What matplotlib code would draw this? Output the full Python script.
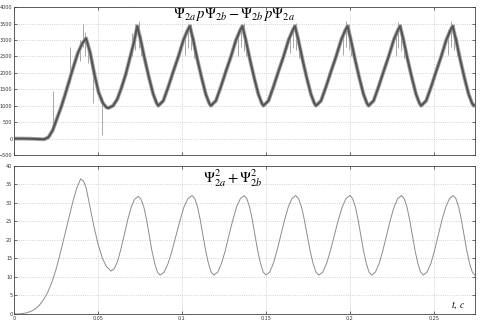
import matplotlib
matplotlib.use('Agg')
import matplotlib.pyplot as plt

plt.rcParams['mathtext.fontset'] = 'stix'

# ---- верхний график: Psi2a*pPsi2b - Psi2b*pPsi2a (средняя линия шумовой полосы) ----
top_t = [0.0, 0.005, 0.010, 0.015, 0.018, 0.0205, 0.023, 0.0255, 0.028, 0.0305, 0.033,
         0.0355, 0.038, 0.0405, 0.0429, 0.0454, 0.0479, 0.0504, 0.0529, 0.0550, 0.0562,
         0.0590, 0.0615, 0.0640, 0.0665, 0.0690, 0.0715, 0.0734,
         0.0754, 0.0779, 0.0804, 0.0829, 0.0849, 0.0859,
         0.0889, 0.0919, 0.0949, 0.0979, 0.1009, 0.1034, 0.1047,
         0.1067, 0.1092, 0.1117, 0.1142, 0.1162, 0.1172,
         0.1202, 0.1232, 0.1262, 0.1292, 0.1322, 0.1347, 0.1360,
         0.1380, 0.1405, 0.1430, 0.1455, 0.1475, 0.1485,
         0.1515, 0.1545, 0.1575, 0.1605, 0.1635, 0.1660, 0.1673,
         0.1693, 0.1718, 0.1743, 0.1768, 0.1788, 0.1798,
         0.1828, 0.1858, 0.1888, 0.1918, 0.1948, 0.1973, 0.1986,
         0.2006, 0.2031, 0.2056, 0.2081, 0.2101, 0.2111,
         0.2141, 0.2171, 0.2201, 0.2231, 0.2261, 0.2286, 0.2299,
         0.2319, 0.2344, 0.2369, 0.2394, 0.2414, 0.2424,
         0.2454, 0.2484, 0.2514, 0.2544, 0.2574, 0.2599, 0.2612,
         0.2632, 0.2657, 0.2682, 0.2707, 0.2727, 0.2737, 0.2750]
top_v = [0, 0, -5, -15, -20, 40, 250, 600, 950, 1350, 1780,
         2200, 2600, 2880, 3050, 2600, 1950, 1400, 1080, 950, 930,
         1000, 1200, 1550, 1950, 2450, 2950, 3420,
         3000, 2400, 1850, 1350, 1080, 1000,
         1150, 1580, 2050, 2500, 3000, 3300, 3420,
         3000, 2400, 1850, 1350, 1080, 1000,
         1150, 1580, 2050, 2500, 3000, 3300, 3420,
         3000, 2400, 1850, 1350, 1080, 1000,
         1150, 1580, 2050, 2500, 3000, 3300, 3420,
         3000, 2400, 1850, 1350, 1080, 1000,
         1150, 1580, 2050, 2500, 3000, 3300, 3420,
         3000, 2400, 1850, 1350, 1080, 1000,
         1150, 1580, 2050, 2500, 3000, 3300, 3420,
         3000, 2400, 1850, 1350, 1080, 1000,
         1150, 1580, 2050, 2500, 3000, 3300, 3420,
         3000, 2400, 1850, 1350, 1080, 1000, 1030]

# выбросы (всплески) на верхнем графике: время, нижний и верхний уровни
spike_t = [0.0234, 0.0333, 0.0410, 0.0468, 0.0522,
           0.0395, 0.0420, 0.0440,
           0.0705, 0.0722, 0.0742, 0.0757,
           0.1020, 0.1037, 0.1055, 0.1070,
           0.1333, 0.1350, 0.1368, 0.1383,
           0.1646, 0.1663, 0.1681, 0.1696,
           0.1959, 0.1976, 0.1994, 0.2009,
           0.2272, 0.2289, 0.2307, 0.2322,
           0.2585, 0.2602, 0.2620, 0.2635]
spike_lo = [250, 1700, 2800, 1090, 120,
            2350, 2500, 2300,
            2500, 2700, 2750, 2500,
            2550, 2750, 2700, 2450,
            2500, 2800, 2650, 2500,
            2600, 2750, 2700, 2450,
            2550, 2800, 2700, 2500,
            2500, 2750, 2650, 2450,
            2550, 2800, 2700, 2500]
spike_hi = [1450, 2800, 3500, 2300, 1250,
            3000, 3250, 2950,
            3200, 3500, 3570, 3150,
            3250, 3480, 3500, 3100,
            3250, 3500, 3520, 3100,
            3200, 3500, 3520, 3100,
            3300, 3570, 3500, 3100,
            3250, 3550, 3480, 3100,
            3300, 3570, 3500, 3100]

# ---- нижний график: Psi2a^2 + Psi2b^2 ----
bot_t = [0.0, 0.0025, 0.005, 0.0075, 0.010, 0.0125, 0.015, 0.0175, 0.020, 0.0225,
         0.025, 0.0275, 0.030, 0.0325, 0.035, 0.0375, 0.0397, 0.0415, 0.043, 0.045,
         0.0475, 0.050, 0.0525, 0.055, 0.0578,
         0.0598, 0.0618, 0.0638, 0.0658, 0.0678, 0.0698, 0.0718, 0.0740,
         0.0756, 0.0773, 0.0789, 0.0805, 0.0821, 0.0838, 0.0854, 0.0870,
         0.0894, 0.0917, 0.0941, 0.0965, 0.0989, 0.1012, 0.1036, 0.1060,
         0.1076, 0.1093, 0.1109, 0.1125, 0.1141, 0.1158, 0.1174, 0.1190,
         0.1213, 0.1235, 0.1258, 0.1280, 0.1303, 0.1325, 0.1348, 0.1370,
         0.1386, 0.1403, 0.1419, 0.1435, 0.1451, 0.1468, 0.1484, 0.1500,
         0.1522, 0.1544, 0.1566, 0.1589, 0.1611, 0.1633, 0.1655, 0.1677,
         0.1694, 0.1712, 0.1729, 0.1746, 0.1763, 0.1781, 0.1798, 0.1815,
         0.1838, 0.1861, 0.1884, 0.1908, 0.1931, 0.1954, 0.1977, 0.2000,
         0.2016, 0.2033, 0.2049, 0.2065, 0.2081, 0.2098, 0.2114, 0.2130,
         0.2152, 0.2174, 0.2196, 0.2219, 0.2241, 0.2263, 0.2285, 0.2307,
         0.2323, 0.2340, 0.2356, 0.2372, 0.2388, 0.2405, 0.2421, 0.2437,
         0.2459, 0.2482, 0.2504, 0.2526, 0.2548, 0.2571, 0.2593, 0.2615,
         0.2631, 0.2648, 0.2664, 0.2680, 0.2696, 0.2713, 0.2729, 0.2745]
bot_v = [0, 0, 0.1, 0.3, 0.7, 1.3, 2.3, 3.8, 5.8, 8.5,
         12.0, 16.3, 21.0, 25.8, 30.3, 34.2, 36.5, 35.8, 34.0, 29.5,
         23.8, 19.0, 15.2, 12.8, 11.6,
         12.3, 14.4, 17.8, 21.7, 25.6, 28.9, 31.0, 31.8,
         31.0, 28.9, 25.5, 21.3, 17.1, 13.6, 11.3, 10.5,
         11.3, 13.6, 17.1, 21.3, 25.4, 28.9, 31.2, 32.0,
         31.2, 28.9, 25.4, 21.3, 17.1, 13.6, 11.3, 10.5,
         11.3, 13.6, 17.1, 21.3, 25.4, 28.9, 31.2, 32.0,
         31.2, 28.9, 25.4, 21.3, 17.1, 13.6, 11.3, 10.5,
         11.3, 13.6, 17.1, 21.3, 25.4, 28.9, 31.2, 32.0,
         31.2, 28.9, 25.4, 21.3, 17.1, 13.6, 11.3, 10.5,
         11.3, 13.6, 17.1, 21.3, 25.4, 28.9, 31.2, 32.0,
         31.2, 28.9, 25.4, 21.3, 17.1, 13.6, 11.3, 10.5,
         11.3, 13.6, 17.1, 21.3, 25.4, 28.9, 31.2, 32.0,
         31.2, 28.9, 25.4, 21.3, 17.1, 13.6, 11.3, 10.5,
         11.3, 13.6, 17.1, 21.3, 25.4, 28.9, 31.2, 32.0,
         31.2, 28.9, 25.4, 21.3, 17.1, 13.6, 11.3, 10.5]

x_ticks = [0, 0.05, 0.1, 0.15, 0.2, 0.25]
x_labels = ['0', '0.05', '0.1', '0.15', '0.2', '0.25']
top_ticks = [-500, 0, 500, 1000, 1500, 2000, 2500, 3000, 3500, 4000]
bot_ticks = [0, 5, 10, 15, 20, 25, 30, 35, 40]

fig = plt.figure(figsize=(4.85, 3.21), dpi=100)
ax1 = fig.add_axes([0.0289, 0.517, 0.9505, 0.461])
ax2 = fig.add_axes([0.0289, 0.022, 0.9505, 0.461])

for ax in (ax1, ax2):
    ax.set_xlim(0, 0.2745)
    ax.set_xticks(x_ticks)
    ax.grid(True, color='#c4c4c4', linestyle=':', linewidth=0.6)
    ax.tick_params(direction='in', length=2, width=0.5, labelsize=3.5,
                   top=True, right=True, pad=1.2, colors='#333333')
    for s in ax.spines.values():
        s.set_linewidth(0.6)
        s.set_color('#444444')

# верхний график: светлая "бахрома" шума, тёмная полоса и всплески
ax1.plot(top_t, top_v, color='#a8a8a8', linewidth=2.8)
ax1.vlines(spike_t, spike_lo, spike_hi, color='#9a9a9a', linewidth=0.6)
ax1.plot(top_t, top_v, color='#555555', linewidth=1.5)
ax1.set_ylim(-500, 4000)
ax1.set_yticks(top_ticks)
ax1.set_xticklabels([])
ax1.text(0.477, 0.952, r'$\Psi_{2a}\,p\Psi_{2b}-\Psi_{2b}\,p\Psi_{2a}$',
         transform=ax1.transAxes, ha='center', va='center', fontsize=10.5)

# нижний график
ax2.plot(bot_t, bot_v, color='#8c8c8c', linewidth=0.7)
ax2.set_ylim(0, 40)
ax2.set_yticks(bot_ticks)
ax2.set_xticklabels(x_labels)
ax2.text(0.475, 0.915, r'$\Psi_{2a}^{2}+\Psi_{2b}^{2}$',
         transform=ax2.transAxes, ha='center', va='center', fontsize=10.5)
ax2.text(0.965, 0.06, r'$t,\ c$', transform=ax2.transAxes,
         ha='center', va='center', fontsize=7)

fig.savefig('out.png', dpi=100)
